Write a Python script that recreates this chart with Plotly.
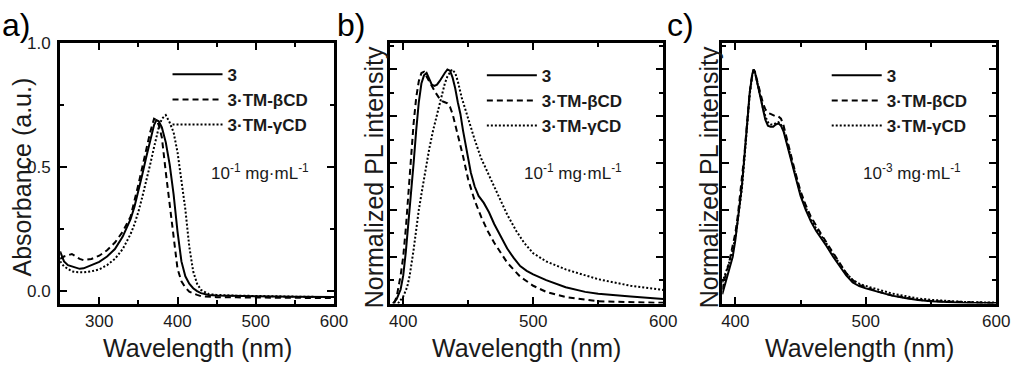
import plotly.graph_objects as go

# ---------------- data ----------------
# Panel a: absorbance
wl_a = [250, 255, 260, 265, 270, 275, 280, 290, 300, 310, 320, 330, 340, 345, 350, 355, 360,
        365, 370, 373, 376, 380, 385, 390, 395, 400, 405, 410, 415, 420, 425, 430, 440, 450,
        475, 500, 550, 600]
abs_3 = [0.16, 0.12, 0.105, 0.10, 0.095, 0.09, 0.092, 0.105, 0.118, 0.14, 0.17, 0.22, 0.29,
         0.34, 0.40, 0.47, 0.54, 0.61, 0.67, 0.69, 0.685, 0.66, 0.60, 0.51, 0.39, 0.24, 0.12,
         0.06, 0.03, 0.012, 0.0, -0.008, -0.015, -0.017, -0.019, -0.02, -0.022, -0.023]
abs_b = [0.13, 0.14, 0.145, 0.15, 0.14, 0.13, 0.125, 0.13, 0.143, 0.165, 0.196, 0.24, 0.30,
         0.36, 0.43, 0.50, 0.57, 0.64, 0.695, 0.69, 0.67, 0.62, 0.48, 0.35, 0.20, 0.09, 0.04,
         0.015, -0.002, -0.01, -0.015, -0.02, -0.022, -0.024, -0.025, -0.026, -0.027, -0.028]
abs_g = [0.12, 0.10, 0.09, 0.08, 0.077, 0.075, 0.076, 0.08, 0.088, 0.105, 0.13, 0.17, 0.23,
         0.27, 0.32, 0.38, 0.44, 0.51, 0.58, 0.62, 0.66, 0.695, 0.71, 0.68, 0.64, 0.56, 0.45,
         0.33, 0.18, 0.08, 0.03, 0.005, -0.012, -0.015, -0.018, -0.02, -0.022, -0.024]

# Panel b: PL at 1e-1 mg/mL
wl_b3 = [392, 395, 398, 400, 402, 405, 408, 410, 412, 414, 416, 418, 420, 422, 424, 426, 428,
         430, 432, 434, 436, 438, 440, 442, 444, 446, 448, 450, 452, 455, 458, 462, 466, 470,
         475, 480, 485, 490, 495, 500, 510, 525, 540, 550, 575, 600]
pl_b3 = [0.0, 0.02, 0.06, 0.12, 0.22, 0.40, 0.60, 0.74, 0.86, 0.94, 0.975, 0.985, 0.96, 0.935,
         0.93, 0.935, 0.95, 0.97, 0.985, 1.0, 0.995, 0.965, 0.92, 0.86, 0.81, 0.74, 0.68, 0.62,
         0.56, 0.50, 0.46, 0.43, 0.39, 0.34, 0.285, 0.235, 0.195, 0.16, 0.14, 0.125, 0.10, 0.07,
         0.05, 0.042, 0.03, 0.02]
wl_bb = [393, 395, 398, 400, 402, 405, 408, 410, 412, 414, 416, 418, 420, 422, 425, 428, 430,
         432, 434, 436, 438, 440, 443, 446, 450, 455, 460, 465, 470, 475, 480, 490, 500, 510,
         525, 550, 575, 600]
pl_bb = [0.0, 0.03, 0.12, 0.2, 0.32, 0.55, 0.77, 0.88, 0.95, 0.985, 0.99, 0.97, 0.95, 0.925,
         0.90, 0.875, 0.865, 0.86, 0.855, 0.84, 0.81, 0.765, 0.70, 0.63, 0.53, 0.44, 0.37, 0.31,
         0.26, 0.215, 0.175, 0.115, 0.076, 0.05, 0.028, 0.01, 0.005, 0.003]
wl_bg = [396, 400, 403, 405, 408, 410, 412, 415, 418, 420, 423, 426, 428, 430, 432, 434, 436,
         437.5, 440, 442, 445, 448, 450, 455, 460, 465, 470, 475, 480, 487, 493, 500, 510, 525,
         550, 575, 600]
pl_bg = [0.0, 0.03, 0.07, 0.12, 0.23, 0.32, 0.40, 0.50, 0.60, 0.66, 0.74, 0.81, 0.86, 0.90,
         0.94, 0.97, 0.99, 1.0, 0.985, 0.95, 0.88, 0.83, 0.79, 0.70, 0.62, 0.56, 0.50, 0.44,
         0.38, 0.31, 0.26, 0.215, 0.18, 0.146, 0.104, 0.076, 0.058]

# Panel c: PL at 1e-3 mg/mL
wl_c = [390, 392, 395, 398, 400, 402, 405, 407, 409, 411, 413, 414, 415, 417, 419, 421, 423,
        425, 427, 429, 431, 433, 435, 437, 440, 443, 446, 450, 454, 458, 462, 466, 470, 475,
        480, 485, 490, 495, 500, 510, 520, 530, 540, 550, 575, 600]
pl_c3 = [0.04, 0.08, 0.13, 0.2, 0.27, 0.36, 0.50, 0.63, 0.77, 0.90, 0.98, 1.0, 0.99, 0.94,
         0.88, 0.83, 0.785, 0.76, 0.755, 0.755, 0.765, 0.77, 0.76, 0.735, 0.67, 0.60, 0.54,
         0.46, 0.40, 0.35, 0.31, 0.28, 0.245, 0.20, 0.16, 0.12, 0.09, 0.075, 0.065, 0.048,
         0.034, 0.024, 0.015, 0.01, 0.004, 0.002]
pl_cb = [0.06, 0.11, 0.17, 0.24, 0.30, 0.38, 0.52, 0.64, 0.77, 0.90, 0.98, 1.0, 0.99, 0.945,
         0.90, 0.86, 0.83, 0.815, 0.81, 0.805, 0.80, 0.80, 0.79, 0.76, 0.69, 0.62, 0.56, 0.48,
         0.42, 0.37, 0.33, 0.295, 0.26, 0.215, 0.17, 0.13, 0.10, 0.08, 0.07, 0.05, 0.035,
         0.024, 0.016, 0.011, 0.005, 0.002]
pl_cg = [0.09, 0.12, 0.17, 0.23, 0.28, 0.36, 0.49, 0.62, 0.76, 0.89, 0.975, 0.995, 0.99, 0.94,
         0.885, 0.84, 0.80, 0.775, 0.765, 0.765, 0.77, 0.775, 0.765, 0.74, 0.68, 0.615, 0.55,
         0.47, 0.41, 0.36, 0.32, 0.29, 0.255, 0.21, 0.17, 0.13, 0.10, 0.085, 0.075, 0.058,
         0.043, 0.032, 0.022, 0.016, 0.007, 0.004]

series_names = ["3", "3·TM-βCD", "3·TM-γCD"]
conc_labels = ["10<sup>-1</sup> mg·mL<sup>-1</sup>", "10<sup>-1</sup> mg·mL<sup>-1</sup>",
               "10<sup>-3</sup> mg·mL<sup>-1</sup>"]
panel_labels = ["a)", "b)", "c)"]
x_title = "Wavelength (nm)"
y_titles = ["Absorbance (a.u.)", "Normalized PL intensity", "Normalized PL intensity"]

# ---------------- styling ----------------
W, H = 1024, 366
FONT = "Arial, Liberation Sans, sans-serif"
TXT = "#1a1a1a"
dashes = ["solid", "6px,4px", "2px,2px"]


def px_x(p):
    return p / W


def px_y(p):
    return 1 - p / H


frames = [(60, 338), (395, 672), (732, 1010)]
ytop, ybot = 35, 302

fig = go.Figure()

panels = [
    ([wl_a, wl_a, wl_a], [abs_3, abs_b, abs_g]),
    ([wl_b3, wl_bb, wl_bg], [pl_b3, pl_bb, pl_bg]),
    ([wl_c, wl_c, wl_c], [pl_c3, pl_cb, pl_cg]),
]

legend_pos = [(169, 49), (488, 50), (838, 50)]

for i, (xs, ys) in enumerate(panels):
    sfx = "" if i == 0 else str(i + 1)
    lg = "legend" if i == 0 else "legend" + str(i + 1)
    for j in range(3):
        fig.add_trace(go.Scatter(
            x=xs[j], y=ys[j], mode="lines", name=series_names[j],
            line=dict(color="black", width=2, dash=dashes[j]),
            xaxis="x" + sfx, yaxis="y" + sfx, legend=lg,
        ))

axis_common = dict(
    showline=True, linewidth=3, linecolor="black", mirror="allticks",
    ticks="inside", ticklen=7, tickwidth=2, tickcolor="black",
    showgrid=False, zeroline=False,
    tickfont=dict(family=FONT, size=17, color=TXT),
)

layout = dict(
    width=W, height=H, margin=dict(l=0, r=0, t=0, b=0),
    paper_bgcolor="white", plot_bgcolor="white",
    font=dict(family=FONT, color=TXT),
)

for i, (x0, x1) in enumerate(frames):
    sfx = "" if i == 0 else str(i + 1)
    xa = dict(axis_common)
    ya = dict(axis_common)
    xa.update(domain=[px_x(x0), px_x(x1)], anchor="y" + sfx,
              ticklabelstandoff=0)
    ya.update(domain=[px_y(ybot), px_y(ytop)], anchor="x" + sfx)
    if i == 0:
        xa.update(range=[250, 600], tickvals=[300, 400, 500, 600],
                  minor=dict(tickvals=[350, 450, 550], ticks="inside", ticklen=4,
                             tickwidth=2, tickcolor="black", showgrid=False))
        ya.update(range=[-0.05, 1.0], tickvals=[0.0, 0.5, 1.0], ticktext=["0.0", "0.5", "1.0"],
                  minor=dict(tickvals=[0.25, 0.75], ticks="inside", ticklen=4,
                             tickwidth=2, tickcolor="black", showgrid=False),
                  ticklabelstandoff=3)
    else:
        xa.update(range=[390, 600], tickvals=[400, 500, 600],
                  minor=dict(tickvals=[450, 550], ticks="inside", ticklen=4,
                             tickwidth=2, tickcolor="black", showgrid=False))
        ya.update(range=[0, 1.1125], tickvals=[0, 0.2, 0.4, 0.6, 0.8, 1.0],
                  showticklabels=False,
                  minor=dict(tickvals=[0.1, 0.3, 0.5, 0.7, 0.9, 1.1], ticks="inside",
                             ticklen=4, tickwidth=2, tickcolor="black", showgrid=False))
    layout["xaxis" + sfx] = xa
    layout["yaxis" + sfx] = ya

    lx, ly = legend_pos[i]
    layout["legend" if i == 0 else "legend" + str(i + 1)] = dict(
        x=px_x(lx), y=px_y(ly), xref="paper", yref="paper",
        xanchor="left", yanchor="top", bgcolor="rgba(0,0,0,0)",
        font=dict(family=FONT, size=17, color=TXT, weight="bold"),
        itemwidth=50, tracegroupgap=0,
    )

fig.update_layout(**layout)
fig.update_layout(showlegend=True)

annots = []
conc_pos = [263, 580, 925]
xt_pos = [199, 533, 871]
yt_pos = [21, 378, 718]
pl_pos = [(15, 16), (355, 16), (690, 16)]
for i in range(3):
    annots.append(dict(x=px_x(conc_pos[i]), y=px_y(167), xref="paper", yref="paper",
                       text=conc_labels[i], showarrow=False, xanchor="center", yanchor="middle",
                       font=dict(family=FONT, size=17, color=TXT)))
    annots.append(dict(x=px_x(xt_pos[i]), y=px_y(348), xref="paper", yref="paper",
                       text=x_title, showarrow=False, xanchor="center", yanchor="middle",
                       font=dict(family=FONT, size=25, color=TXT)))
    annots.append(dict(x=px_x(yt_pos[i]), y=px_y(172), xref="paper", yref="paper",
                       text=y_titles[i], showarrow=False, xanchor="center", yanchor="middle",
                       textangle=-90, font=dict(family=FONT, size=25, color=TXT)))
    annots.append(dict(x=px_x(pl_pos[i][0]), y=px_y(pl_pos[i][1]), xref="paper", yref="paper",
                       text=panel_labels[i], showarrow=False, xanchor="center", yanchor="middle",
                       font=dict(family=FONT, size=32, color="black")))
fig.update_layout(annotations=annots)

fig.write_html("out.html", config={"displayModeBar": False},
               post_script="document.body.style.margin='0';document.body.style.overflow='hidden';")
